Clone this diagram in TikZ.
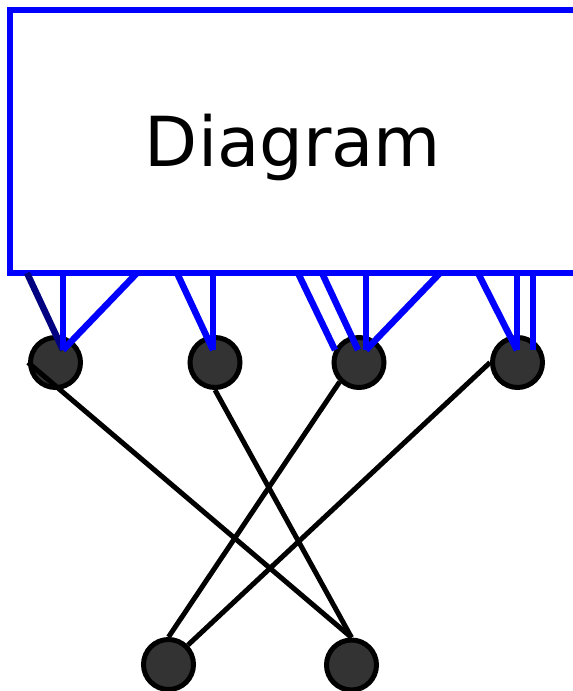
\documentclass[tikz,border=0pt]{standalone}
\usepackage{fontspec}
\setmainfont{DejaVu Sans}
\definecolor{dotgray}{HTML}{333333}
\definecolor{navyline}{rgb}{0,0,0.5}

\begin{document}
\begin{tikzpicture}[x=1pt,y=-1pt,
    dot/.style={circle,draw=black,fill=dotgray,line width=5pt,minimum size=50pt,inner sep=0pt},
    wire/.style={blue,line width=6.5pt},
    link/.style={black,line width=5pt}]
      \useasboundingbox (0,0) rectangle (573,691);
      \clip (0,0) rectangle (573,691);

      \node[draw=blue,line width=6pt,outer sep=0pt,inner sep=0pt,
            minimum width=566pt,minimum height=263pt,text depth=3pt,
            font=\fontsize{69}{80}\selectfont] (diag) at (293,141.5) {Diagram};

      \node[dot] (n1) at (55.5,362.5) {};
      \node[dot] (n2) at (215,362.5) {};
      \node[dot] (n3) at (359,362.5) {};
      \node[dot] (n4) at (517.5,362.5) {};
      \node[dot] (na) at (168.5,664.5) {};
      \node[dot] (nb) at (351.5,665) {};

      \coordinate (p1) at (63,350);
      \coordinate (p2) at (213,350);
      \coordinate (p3a) at (335,350);
      \coordinate (p3b) at (358,350);
      \coordinate (p3c) at (366,350);
      \coordinate (p4a) at (517,350);
      \coordinate (p4b) at (533,350);

      \draw[navyline,line width=6.5pt] (27,0 |- diag.south) -- (p1);
      \foreach \x/\p in {63/p1, 137/p1, 177/p2, 213/p2, 298/p3a, 322/p3b,
                         366/p3c, 440/p3c, 478/p4a, 517/p4a, 533/p4b}
        \draw[wire] (\x,0 |- diag.south) -- (\p);

      \draw[link] (n1.west) -- (nb.north);
      \draw[link] (n2.south) -- (nb.north);
      \draw[link] (n3.south west) -- (na.north);
      \draw[link] (n4.west) -- (na.north east);
    \end{tikzpicture}
\end{document}
